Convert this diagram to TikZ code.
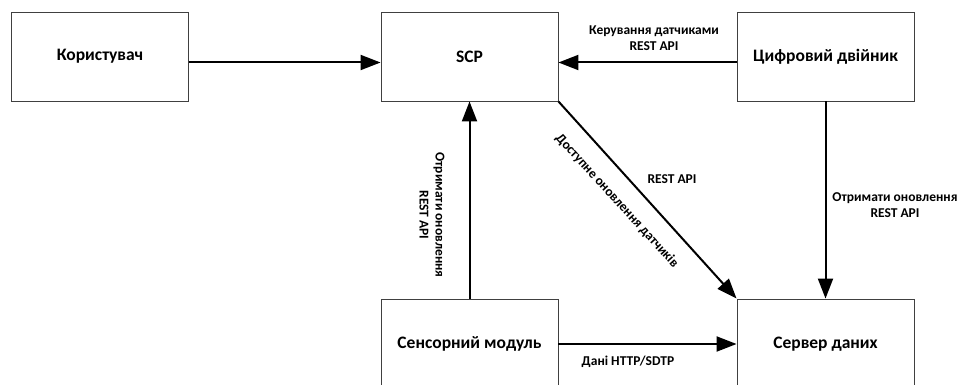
\documentclass[tikz,border=0pt]{standalone}
\usepackage{fontspec}
\setmainfont{Carlito}
\usetikzlibrary{arrows.meta}

\tikzset{
  block/.style={draw=black!75, line width=0.9pt, fill=white, minimum width=177pt,
    minimum height=89pt, inner sep=0pt, font=\bfseries\fontsize{17.5}{20}\selectfont},
  flow/.style={draw=black, line width=2pt, -{Triangle[length=20pt,width=15pt]}},
  note/.style={font=\bfseries\fontsize{13.5}{16}\selectfont, align=center, inner sep=0pt}
}

\begin{document}
\begin{tikzpicture}[x=1pt, y=-1pt]
  \useasboundingbox (0,0) rectangle (960,385);
  \fill[white] (0,0) rectangle (960,385);
  \clip (0,0) rectangle (960,385);

  % blocks
  \node[block] (user) at (100,56.5)   {Користувач};
  \node[block] (scp)  at (469.5,56.5) {SCP};
  \node[block] (twin) at (825.5,56.5) {Цифровий двійник};
  \node[block, minimum height=90pt] (sens) at (469.5,344) {Сенсорний модуль};
  \node[block, minimum height=90pt] (srv)  at (825.5,344) {Сервер даних};

  % connectors
  \draw[flow] ([yshift=-6pt]user.east) -- ([yshift=-6pt]scp.west);
  \draw[flow] ([yshift=-6pt]twin.west) -- ([yshift=-6pt]scp.east);
  \draw[flow] (scp.south east) -- (srv.north west);
  \draw[flow] (sens.north) -- (scp.south);
  \draw[flow] (twin.south) -- (srv.north);
  \draw[flow] (sens.east) -- (srv.west);

  % connector labels
  \node[note] (lctl)  at (654,38)  {Керування датчиками\\REST API};
  \node[note] (lrest) at (672,179) {REST API};
  \node[note, rotate=-47.6] (lupd) at (617,201) {Доступне оновлення датчиків};
  \node[note, rotate=-90] (lget) at (432,215) {Отримати оновлення\\REST API};
  \node[note] (lget2) at (895,205) {Отримати оновлення\\REST API};
  \node[note] (ldata) at (628,362) {Дані HTTP/SDTP};
\end{tikzpicture}
\end{document}
